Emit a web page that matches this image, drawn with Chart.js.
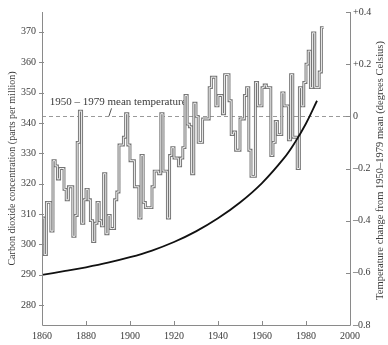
<!DOCTYPE html>
<html>
<head>
<meta charset="utf-8">
<script src="https://cdn.jsdelivr.net/npm/chart.js@4/dist/chart.umd.min.js"></script>
<style>
  html, body { margin: 0; padding: 0; background: #fff; }
  #c { display: block; }
</style>
</head>
<body>
<canvas id="c" width="388" height="345"></canvas>
<script>
// Annual global temperature change (°C from the 1950–1979 mean), one value per year from 1860
const firstYear = 1860;
const tempAnomaly = [
  -0.39, -0.53, -0.33, -0.33, -0.44, -0.17, -0.19, -0.24, -0.20, -0.20,
  -0.28, -0.32, -0.27, -0.27, -0.46, -0.38, -0.10,  0.02, -0.41, -0.32,
  -0.28, -0.32, -0.40, -0.48, -0.41, -0.33, -0.40, -0.42, -0.22, -0.45,
  -0.38, -0.43, -0.43, -0.32, -0.29, -0.11, -0.11, -0.08,  0.01, -0.11,
  -0.17, -0.17, -0.27, -0.27, -0.39, -0.15, -0.33, -0.35, -0.35, -0.35,
  -0.27, -0.21, -0.21, -0.22,  0.01, -0.21, -0.21, -0.39, -0.15, -0.12,
  -0.16, -0.16, -0.19, -0.16, -0.12,  0.08, -0.03, -0.04, -0.22,  0.05,
   0.00, -0.10, -0.10, -0.01, -0.01, -0.01,  0.11,  0.15,  0.15,  0.04,
   0.08,  0.08,  0.01,  0.16,  0.16,  0.06, -0.07, -0.06, -0.13, -0.13,
  -0.01, -0.01,  0.08,  0.11, -0.13, -0.23, -0.23,  0.13,  0.04,  0.04,
   0.11,  0.12,  0.11,  0.11, -0.15, -0.10, -0.02, -0.07, -0.07,  0.09,
   0.04,  0.04, -0.09,  0.16, -0.08, -0.08, -0.20,  0.11,  0.04,  0.13,
   0.20,  0.25,  0.11,  0.32,  0.11,  0.11,  0.17,  0.34
];

// Atmospheric carbon dioxide concentration (parts per million)
const co2Years = [1860, 1870, 1880, 1890, 1900, 1910, 1920, 1930, 1940, 1950, 1960, 1970, 1975, 1980, 1985];
const co2Ppm   = [290.0, 291.2, 292.5, 294.0, 295.8, 298.0, 300.8, 304.3, 308.6, 313.8, 320.2, 328.4, 333.6, 339.8, 347.3];

// Axis tick values
const yearTicks = [1860, 1880, 1900, 1920, 1940, 1960, 1980, 2000];
const co2Ticks  = [280, 290, 300, 310, 320, 330, 340, 350, 360, 370];
const tempTicks = [-0.8, -0.6, -0.4, -0.2, 0, 0.2, 0.4];

const meanLabel = '1950 \u2013 1979 mean temperature';
const leftTitle = 'Carbon dioxide concentration (parts per million)';
const rightTitle = 'Temperature change from 1950\u20131979 mean (degrees Celsius)';

const SERIF = '"Liberation Serif", "DejaVu Serif", serif';
const INK = '#3a3a3a';
const AXIS = '#8a8a8a';

// stepped series: one point per year, plus a closing point so the last year has width
const tempPoints = tempAnomaly.map((v, i) => ({ x: firstYear + i, y: v }));
tempPoints.push({ x: firstYear + tempAnomaly.length, y: tempAnomaly[tempAnomaly.length - 1] });
const co2Points = co2Years.map((yr, i) => ({ x: yr, y: co2Ppm[i] }));

function fmtTemp(v) {
  const r = Math.round(v * 10) / 10;
  if (r === 0) return '0';
  return (r > 0 ? '+' : '\u2013') + Math.abs(r).toFixed(1);
}

// axis lines, inward tick marks, mean-temperature reference line and right title
const decor = {
  id: 'decor',
  beforeDatasetsDraw(chart) {
    const { ctx, chartArea: a, scales } = chart;
    const y0 = scales.y1.getPixelForValue(0);
    ctx.save();
    ctx.strokeStyle = '#9a9a9a';
    ctx.lineWidth = 1;
    ctx.setLineDash([4, 3]);
    ctx.beginPath();
    ctx.moveTo(a.left, Math.round(y0) + 0.5);
    ctx.lineTo(a.right, Math.round(y0) + 0.5);
    ctx.stroke();
    ctx.setLineDash([]);
    // label and leader
    ctx.fillStyle = INK;
    ctx.font = '11px ' + SERIF;
    ctx.textBaseline = 'alphabetic';
    ctx.textAlign = 'left';
    ctx.fillText(meanLabel, scales.x.getPixelForValue(1863.5), y0 - 11);
    ctx.strokeStyle = '#555';
    ctx.beginPath();
    ctx.moveTo(scales.x.getPixelForValue(1891.6), y0 - 8);
    ctx.lineTo(scales.x.getPixelForValue(1890.4), y0);
    ctx.stroke();
    ctx.restore();
  },
  afterDraw(chart) {
    const { ctx, chartArea: a, scales } = chart;
    ctx.save();
    ctx.strokeStyle = AXIS;
    ctx.lineWidth = 1;
    ctx.beginPath();
    ctx.moveTo(a.left + 0.5, a.top);
    ctx.lineTo(a.left + 0.5, a.bottom + 0.5);
    ctx.lineTo(a.right + 0.5, a.bottom + 0.5);
    ctx.lineTo(a.right + 0.5, a.top);
    // year ticks, pointing up into the plot
    yearTicks.forEach(t => {
      const px = Math.round(scales.x.getPixelForValue(t)) + 0.5;
      ctx.moveTo(px, a.bottom);
      ctx.lineTo(px, a.bottom - 4);
    });
    co2Ticks.forEach(t => {
      const py = Math.round(scales.y.getPixelForValue(t)) + 0.5;
      ctx.moveTo(a.left - 3, py);
      ctx.lineTo(a.left + 2, py);
    });
    tempTicks.forEach(t => {
      const py = Math.round(scales.y1.getPixelForValue(t)) + 0.5;
      ctx.moveTo(a.right - 4, py);
      ctx.lineTo(a.right, py);
    });
    ctx.stroke();
    // right axis title, reading bottom to top
    ctx.fillStyle = INK;
    ctx.font = '10.5px ' + SERIF;
    ctx.textAlign = 'center';
    ctx.textBaseline = 'middle';
    ctx.translate(380, (a.top + a.bottom) / 2 + 2);
    ctx.rotate(-Math.PI / 2);
    ctx.fillText(rightTitle, 0, 0);
    ctx.restore();
  }
};

new Chart(document.getElementById('c'), {
  type: 'line',
  data: {
    datasets: [
      {
        label: 'CO2',
        data: co2Points,
        yAxisID: 'y',
        borderColor: '#111',
        borderWidth: 1.8,
        pointRadius: 0,
        tension: 0.4,
        fill: false
      },
      {
        label: 'Temperature (inner)',
        data: tempPoints,
        yAxisID: 'y1',
        stepped: true,
        borderColor: '#f2f2f2',
        borderWidth: 1,
        borderJoinStyle: 'miter',
        borderCapStyle: 'butt',
        pointRadius: 0,
        fill: false
      },
      {
        label: 'Temperature',
        data: tempPoints,
        yAxisID: 'y1',
        stepped: true,
        borderColor: '#747474',
        borderWidth: 2.9,
        borderJoinStyle: 'miter',
        borderCapStyle: 'butt',
        pointRadius: 0,
        fill: false
      }
    ]
  },
  options: {
    responsive: false,
    animation: false,
    devicePixelRatio: 1,
    layout: { padding: { top: 10, left: 0, right: 0, bottom: 0 } },
    plugins: { legend: { display: false }, tooltip: { enabled: false } },
    scales: {
      x: {
        type: 'linear',
        min: 1860, max: 2000,
        grid: { display: false, drawTicks: false },
        border: { display: false },
        afterBuildTicks: s => { s.ticks = yearTicks.map(v => ({ value: v })); },
        afterFit: s => { s.height = 20; },
        ticks: {
          padding: 5,
          maxRotation: 0,
          autoSkip: false,
          color: INK,
          font: { family: SERIF, size: 10 },
          callback: v => String(v)
        }
      },
      y: {
        position: 'left',
        min: 273.5, max: 376.5,
        grid: { display: false, drawTicks: false },
        border: { display: false },
        afterBuildTicks: s => { s.ticks = co2Ticks.map(v => ({ value: v })); },
        afterFit: s => { s.width = 42; },
        title: {
          display: true,
          text: leftTitle,
          color: INK,
          font: { family: SERIF, size: 10 },
          padding: { top: 6, bottom: 0 }
        },
        ticks: {
          padding: 6,
          autoSkip: false,
          color: INK,
          font: { family: SERIF, size: 10 },
          callback: v => String(v)
        }
      },
      y1: {
        position: 'right',
        min: -0.8, max: 0.4,
        grid: { display: false, drawTicks: false },
        border: { display: false },
        afterBuildTicks: s => { s.ticks = tempTicks.map(v => ({ value: v })); },
        afterFit: s => { s.width = 38; },
        ticks: {
          padding: 3,
          autoSkip: false,
          color: INK,
          font: { family: SERIF, size: 10 },
          callback: v => fmtTemp(v)
        }
      }
    }
  },
  plugins: [decor]
});
</script>
</body>
</html>
